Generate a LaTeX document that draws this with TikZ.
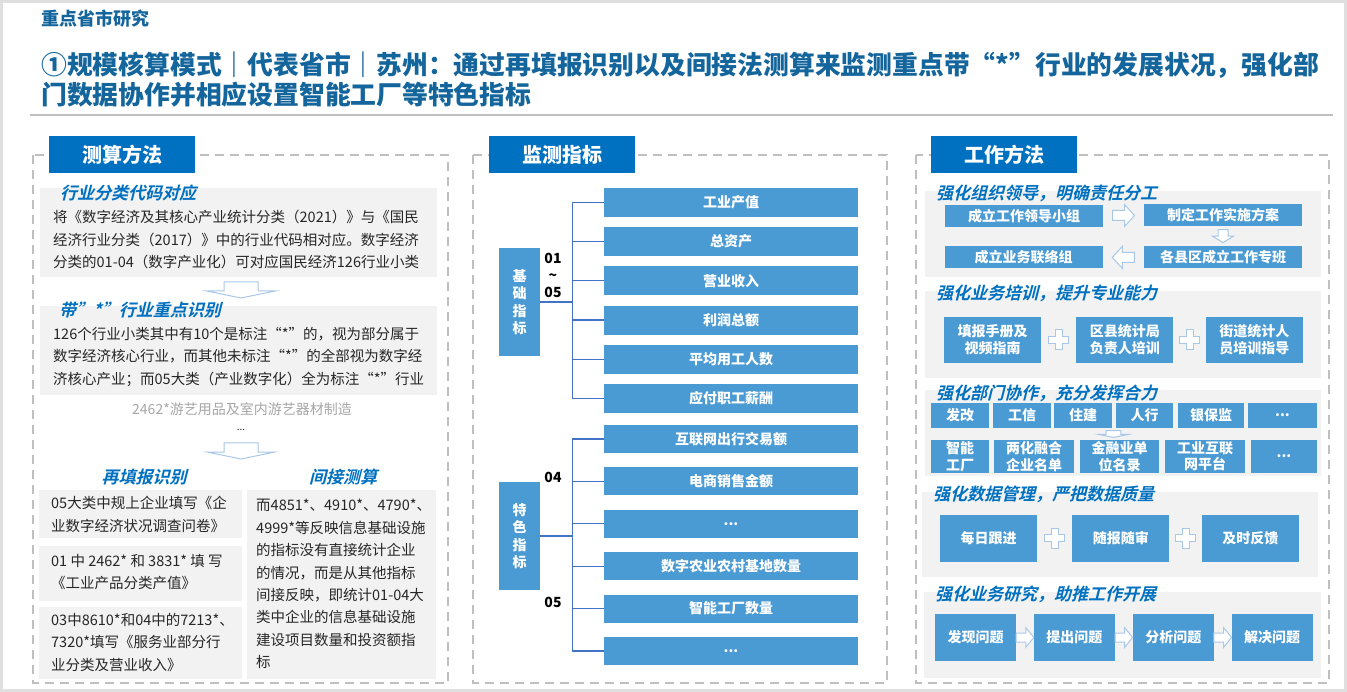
\documentclass[tikz,border=0pt]{standalone}
\usepackage{fontspec}
\setmainfont{Noto Sans CJK SC}
\newfontfamily\slantcjk{Noto Sans CJK SC Bold}[FakeSlant=0.25]
\usepackage{tikz}
\usetikzlibrary{positioning, calc}
\definecolor{tabblue}{HTML}{0070C0}
\definecolor{cellblue}{HTML}{4A9AD3}
\definecolor{titleblue}{HTML}{13659C}
\definecolor{shadegray}{HTML}{F2F2F2}
\definecolor{dashgray}{HTML}{BFBFBF}
\definecolor{linkblue}{HTML}{4472C4}
\definecolor{ghostblue}{HTML}{A9C8E8}
\definecolor{inkgray}{HTML}{262626}
\definecolor{notegray}{HTML}{A6A6A6}
\newcommand{\etcmark}{...}

\begin{document}
\begin{tikzpicture}[
  x=1pt, y=-1pt,
  panel/.style={draw=dashgray, line width=2pt, dash pattern=on 9pt off 6pt},
  tab/.style={fill=tabblue, text=white, minimum width=146pt, minimum height=37pt,
              inner sep=0, font=\fontsize{20}{24}\selectfont\bfseries},
  shade/.style={fill=shadegray},
  topic/.style={anchor=west, inner sep=0, text=tabblue,
                font=\slantcjk\fontsize{17}{20}\selectfont},
  body/.style={anchor=west, inner sep=0, align=left, text=inkgray,
               font=\fontsize{14.5}{22.4}\selectfont},
  note/.style={inner sep=0, text=notegray, font=\fontsize{14}{17}\selectfont},
  cell/.style={fill=cellblue, text=white, inner sep=0, align=center,
               font=\bfseries\fontsize{14}{17}\selectfont},
  mcell/.style={cell, minimum width=254pt, minimum height=29pt},
  fcell/.style={cell, minimum width=254pt, minimum height=28pt},
  vcell/.style={cell, minimum width=41pt, minimum height=108pt,
                font=\bfseries\fontsize{14}{17.5}\selectfont},
  ocell/.style={cell, minimum width=158pt, minimum height=22pt},
  tcell/.style={cell, minimum width=97pt, minimum height=46pt},
  qcell/.style={cell, minimum width=97pt, minimum height=47pt},
  pcell/.style={cell, minimum width=81pt, minimum height=47pt},
  code/.style={inner sep=0, align=center, font=\bfseries\fontsize{14}{17}\selectfont},
  link/.style={draw=linkblue, line width=1.2pt},
  ghost/.style={draw=ghostblue, fill=white, line width=1pt},
  rarr/.pic={\draw[ghost] (-11,-5) -- (1,-5) -- (1,-11) -- (11,0) -- (1,11) -- (1,5) -- (-11,5) -- cycle;},
  darr/.pic={\draw[ghost] (-5,-6.5) -- (5,-6.5) -- (5,0) -- (10.5,0) -- (0,6.5) -- (-10.5,0) -- (-5,0) -- cycle;},
  flatarr/.pic={\draw[ghost] (-17,-8) -- (17,-8) -- (17,1) -- (34,1) -- (0,8) -- (-34,1) -- (-17,1) -- cycle;},
  cross/.pic={\draw[ghost] (-3.5,-10) -- (3.5,-10) -- (3.5,-3.5) -- (10,-3.5) -- (10,3.5) -- (3.5,3.5)
              -- (3.5,10) -- (-3.5,10) -- (-3.5,3.5) -- (-10,3.5) -- (-10,-3.5) -- (-3.5,-3.5) -- cycle;}
]
\useasboundingbox (0,0) rectangle (1347,692);
\draw[gray!25, line width=3pt] (1.5,1.5) rectangle (1345.5,690.5);

% title
\node[anchor=west, inner sep=0, text=titleblue, font=\bfseries\fontsize{18}{20}\selectfont] (kicker) at (41,19) {重点省市研究};
\node[anchor=west, inner sep=0, align=left, text=titleblue, font=\bfseries\fontsize{25.8}{30}\selectfont] (title) at (41,80)
  {①规模核算模式｜代表省市｜苏州：通过再填报识别以及间接法测算来监测重点带“*”行业的发展状况，强化部\\门数据协作并相应设置智能工厂等特色指标};
\draw[dashgray, line width=1.5pt] (30,115) -- (1333,115);

% panels
\draw[panel] (33,155) rectangle (448,683);
\draw[panel] (473,155) rectangle (887,683);
\draw[panel] (916,155) rectangle (1329,683);
\node[tab] (calc) at (122,154.5) {测算方法};
\node[tab] (watch) at (562,154.5) {监测指标};
\node[tab] (work) at (1004,154.5) {工作方法};

% left: calculation
\fill[shade] (40,188) rectangle (437,277);
\node[topic] (k1) at (60,193) {行业分类代码对应};
\node[body] (k1t) at (53,239.5) {将《数字经济及其核心产业统计分类（2021）》与《国民\\经济行业分类（2017）》中的行业代码相对应。数字经济\\分类的01-04（数字产业化）可对应国民经济126行业小类};
\pic at (241,290) {flatarr};
\fill[shade] (40,306) rectangle (437,395);
\node[topic] (k2) at (59,310) {带”*”行业重点识别};
\node[body] (k2t) at (53,357) {126个行业小类其中有10个是标注“*”的，视为部分属于\\数字经济核心行业，而其他未标注“*”的全部视为数字经\\济核心产业；而05大类（产业数字化）全为标注“*”行业};
\node[note] (eg) at (242,409) {2462*游艺用品及室内游艺器材制造};
\node[inner sep=0, text=inkgray, font=\fontsize{10}{12}\selectfont] (more) at (241,430) {...};
\pic at (241,451) {flatarr};
\node[topic, anchor=center] (k3) at (144,477) {再填报识别};
\node[topic, anchor=center] (k4) at (343,477) {间接测算};
\fill[shade] (39,490) rectangle (242,538);
\fill[shade] (39,546) rectangle (242,601);
\fill[shade] (39,607) rectangle (242,679);
\fill[shade] (247,490) rectangle (436,679);
\node[body] (a1) at (51,514.5) {05大类中规上企业填写《企\\业数字经济状况调查问卷》};
\node[body] (a2) at (51,572) {01~中~2462*~和~3831*~填~写\\《工业产品分类产值》};
\node[body] (a3) at (51,642.5) {03中8610*和04中的7213*、\\7320*填写《服务业部分行\\业分类及营业收入》};
\node[body] (b1) at (256,584) {而4851*、4910*、4790*、\\4999*等反映信息基础设施\\的指标没有直接统计企业\\的情况，而是从其他指标\\间接反映，即统计01-04大\\类中企业的信息基础设施\\建设项目数量和投资额指\\标};

% middle: indicators
\node[vcell] (jc) at (519.5,302) {基\\础\\指\\标};
\node[vcell] (ts) at (519.5,536) {特\\色\\指\\标};
\node[code] (n1) at (553,275) {01\\\textasciitilde\\05};
\node[code] (n2) at (553,477) {04};
\node[code] (n3) at (553,602) {05};

\node[mcell] (m1) at (731,202.5) {工业产值};
\foreach \t [count=\i from 2, remember=\i as \j (initially 1)] in {总资产, 营业收入, 利润总额, 平均用工人数, 应付职工薪酬}
  \node[mcell, below=9.8pt of m\j] (m\i) {\t};
\node[fcell] (f1) at (731,439) {互联网出行交易额};
\foreach \t [count=\i from 2, remember=\i as \j (initially 1)] in {电商销售金额, \etcmark, 数字农业农村基地数量, 智能工厂数量, \etcmark}
  \node[fcell, below=14pt of f\j] (f\i) {\t};

\coordinate (jb) at ([xshift=32pt]jc.east);
\coordinate (tb) at ([xshift=32pt]ts.east);
\draw[link] (jc.east) -- (jb);
\draw[link] (ts.east) -- (tb);
\draw[link] (jb |- m1.west) -- (jb |- m6.west);
\draw[link] (tb |- f1.west) -- (tb |- f6.west);
\foreach \i in {1,...,6} {
  \draw[link] (jb |- m\i.west) -- (m\i.west);
  \draw[link] (tb |- f\i.west) -- (f\i.west);
}

% right: working methods
\fill[shade] (925,191) rectangle (1321,277);
\node[topic] (w1) at (936,193) {强化组织领导，明确责任分工};
\node[ocell] (o1) at (1024,216) {成立工作领导小组};
\node[ocell] (o2) at (1223,215) {制定工作实施方案};
\node[ocell, below=20pt of o2] (o3) {各县区成立工作专班};
\node[ocell, left=41pt of o3] (o4) {成立业务联络组};
\pic at ($(o1.east)!0.5!(o2.west)$) {rarr};
\pic at ($(o2.south)!0.5!(o3.north)$) {darr};
\pic[rotate=180] at ($(o4.east)!0.5!(o3.west)$) {rarr};

\fill[shade] (925,291) rectangle (1321,378);
\node[topic] (w2) at (936,293) {强化业务培训，提升专业能力};
\node[tcell] (t1) at (992.5,340) {填报手册及\\视频指南};
\node[tcell, right=35pt of t1] (t2) {区县统计局\\负责人培训};
\node[tcell, right=32pt of t2] (t3) {街道统计人\\员培训指导};
\pic at ($(t1.east)!0.5!(t2.west)$) {cross};
\pic at ($(t2.east)!0.5!(t3.west)$) {cross};

\fill[shade] (925,390) rectangle (1321,476);
\node[topic] (w3) at (936,393) {强化部门协作，充分发挥合力};
\foreach \t/\c/\w [count=\i] in {发改/960/58, 工信/1022/58, 住建/1083/58, 人行/1144.5/57, 银保监/1211/66, \etcmark/1282.5/69}
  \node[cell, minimum width=\w pt, minimum height=25pt] (d\i) at (\c,415.5) {\t};
\foreach \t/\c/\w [count=\i] in {智能\\工厂/960/58, 两化融合\\企业名单/1034/80, 金融业单\\位名录/1119.5/79, 工业互联\\网平台/1205/80, \etcmark/1284/66}
  \node[cell, minimum width=\w pt, minimum height=33pt, font=\bfseries\fontsize{14}{16.5}\selectfont] (e\i) at (\c,456.5) {\t};
\coordinate (share) at (1113.5,434);
\pic[scale=0.43] at (share) {flatarr};

\fill[shade] (922,492) rectangle (1318,577);
\node[topic] (w4) at (933,494) {强化数据管理，严把数据质量};
\node[qcell] (q1) at (988.5,538) {每日跟进};
\node[qcell, right=35pt of q1] (q2) {随报随审};
\node[qcell, right=32pt of q2] (q3) {及时反馈};
\pic at ($(q1.east)!0.5!(q2.west)$) {cross};
\pic at ($(q2.east)!0.5!(q3.west)$) {cross};

\fill[shade] (924,592) rectangle (1321,678);
\node[topic] (w5) at (935,594) {强化业务研究，助推工作开展};
\node[pcell] (p1) at (975.5,637.5) {发现问题};
\foreach \t [count=\i from 2, remember=\i as \j (initially 1)] in {提出问题, 分析问题, 解决问题}
  \node[pcell, right=17.5pt of p\j] (p\i) {\t};
\foreach \i [count=\k from 2] in {1,2,3}
  \pic[xscale=0.8, yscale=0.9] at ($(p\i.east)!0.5!(p\k.west)$) {rarr};
\end{tikzpicture}
\end{document}
